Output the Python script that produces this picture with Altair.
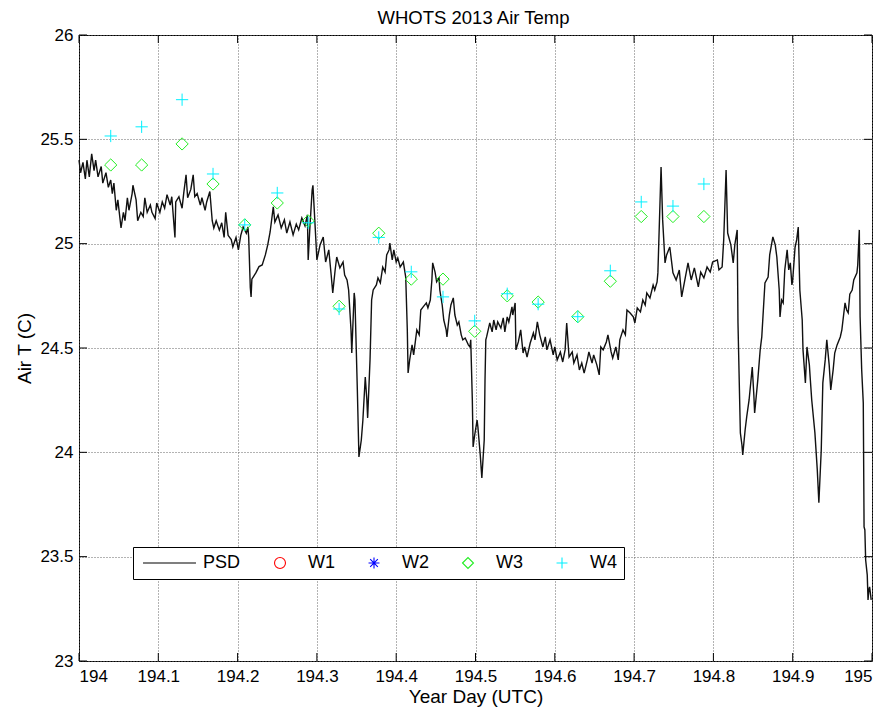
import altair as alt
import pandas as pd

FONT = "Liberation Sans"

# ---- PSD air temperature ----
psd_day = [
    194.000, 194.002, 194.005, 194.008, 194.010, 194.013, 194.016, 194.019, 194.021, 194.024,
    194.028, 194.030, 194.034, 194.037, 194.040, 194.042, 194.044, 194.047, 194.049, 194.053,
    194.056, 194.058, 194.061, 194.063, 194.067, 194.068, 194.072, 194.074, 194.078, 194.081,
    194.083, 194.086, 194.090, 194.092, 194.096, 194.098, 194.102, 194.105, 194.108, 194.111,
    194.115, 194.117, 194.121, 194.122, 194.126, 194.130, 194.132, 194.135, 194.137, 194.141,
    194.144, 194.146, 194.149, 194.153, 194.155, 194.159, 194.161, 194.165, 194.168, 194.170,
    194.173, 194.177, 194.180, 194.183, 194.185, 194.188, 194.192, 194.194, 194.198, 194.201,
    194.204, 194.207, 194.211, 194.213, 194.214, 194.216, 194.217, 194.218, 194.223, 194.227,
    194.231, 194.235, 194.238, 194.241, 194.245, 194.247, 194.251, 194.255, 194.259, 194.262,
    194.266, 194.270, 194.274, 194.277, 194.281, 194.285, 194.288, 194.289, 194.291, 194.294,
    194.295, 194.298, 194.300, 194.304, 194.308, 194.311, 194.315, 194.318, 194.320, 194.323,
    194.325, 194.329, 194.333, 194.335, 194.338, 194.340, 194.343, 194.344, 194.347, 194.348,
    194.351, 194.353, 194.356, 194.358, 194.361, 194.363, 194.364, 194.367, 194.369, 194.371,
    194.375, 194.377, 194.380, 194.383, 194.386, 194.388, 194.391, 194.392, 194.395, 194.397,
    194.400, 194.402, 194.405, 194.409, 194.412, 194.414, 194.415, 194.417, 194.420, 194.422,
    194.426, 194.429, 194.431, 194.434, 194.438, 194.440, 194.443, 194.445, 194.446, 194.449,
    194.451, 194.454, 194.455, 194.458, 194.460, 194.463, 194.464, 194.467, 194.469, 194.472,
    194.474, 194.477, 194.479, 194.482, 194.484, 194.487, 194.491, 194.493, 194.494, 194.496,
    194.497, 194.499, 194.502, 194.503, 194.506, 194.508, 194.511, 194.512, 194.513, 194.514,
    194.518, 194.521, 194.523, 194.526, 194.528, 194.532, 194.535, 194.537, 194.540, 194.542,
    194.546, 194.547, 194.550, 194.551, 194.554, 194.557, 194.560, 194.562, 194.565, 194.569,
    194.573, 194.575, 194.578, 194.581, 194.585, 194.588, 194.590, 194.594, 194.598, 194.600,
    194.603, 194.607, 194.610, 194.613, 194.615, 194.618, 194.622, 194.624, 194.628, 194.631,
    194.634, 194.637, 194.641, 194.643, 194.647, 194.649, 194.653, 194.656, 194.658, 194.661,
    194.665, 194.667, 194.671, 194.673, 194.677, 194.680, 194.682, 194.686, 194.689, 194.691,
    194.695, 194.699, 194.701, 194.704, 194.708, 194.711, 194.714, 194.716, 194.720, 194.724,
    194.726, 194.729, 194.730, 194.734, 194.736, 194.739, 194.741, 194.745, 194.749, 194.753,
    194.757, 194.760, 194.764, 194.768, 194.772, 194.776, 194.781, 194.784, 194.788, 194.792,
    194.796, 194.799, 194.805, 194.807, 194.811, 194.813, 194.816, 194.818, 194.822, 194.825,
    194.827, 194.830, 194.831, 194.834, 194.836, 194.837, 194.840, 194.842, 194.845, 194.849,
    194.851, 194.852, 194.856, 194.859, 194.861, 194.865, 194.869, 194.871, 194.875, 194.878,
    194.880, 194.883, 194.884, 194.886, 194.888, 194.890, 194.893, 194.895, 194.897, 194.899,
    194.900, 194.903, 194.905, 194.907, 194.909, 194.912, 194.913, 194.916, 194.918, 194.921,
    194.922, 194.924, 194.928, 194.931, 194.933, 194.936, 194.938, 194.941, 194.943, 194.946,
    194.948, 194.951, 194.953, 194.956, 194.960, 194.962, 194.966, 194.968, 194.970, 194.972,
    194.975, 194.977, 194.981, 194.982, 194.984, 194.985, 194.987, 194.989, 194.990, 194.991,
    194.992, 194.994, 194.995, 194.996, 194.997, 194.999,
]
psd_temp = [
    25.40, 25.34, 25.39, 25.31, 25.40, 25.32, 25.43, 25.35, 25.40, 25.32,
    25.37, 25.29, 25.34, 25.27, 25.305, 25.24, 25.29, 25.16, 25.21, 25.075,
    25.15, 25.11, 25.22, 25.16, 25.24, 25.28, 25.21, 25.11, 25.15, 25.13,
    25.22, 25.15, 25.185, 25.15, 25.12, 25.195, 25.15, 25.20, 25.17, 25.235,
    25.185, 25.225, 25.03, 25.20, 25.225, 25.17, 25.24, 25.33, 25.22, 25.26,
    25.33, 25.225, 25.24, 25.185, 25.22, 25.16, 25.20, 25.25, 25.11, 25.075,
    25.11, 25.065, 25.10, 25.03, 25.15, 25.04, 25.02, 24.985, 25.03, 24.97,
    25.04, 25.08, 25.05, 25.08, 25.03, 24.79, 24.745, 24.83, 24.86, 24.89,
    24.898, 24.946, 24.994, 25.056, 25.176, 25.104, 25.138, 25.075, 25.114, 25.051,
    25.104, 25.042, 25.094, 25.066, 25.123, 25.085, 25.138, 24.922, 25.066, 25.257,
    25.28, 25.066, 24.922, 24.994, 25.032, 24.912, 24.970, 24.850, 24.764, 24.874,
    24.936, 24.884, 24.912, 24.850, 24.826, 24.778, 24.587, 24.476, 24.764, 24.730,
    24.299, 23.978, 24.059, 24.155, 24.361, 24.251, 24.165, 24.443, 24.730, 24.778,
    24.802, 24.836, 24.812, 24.888, 24.864, 24.946, 24.970, 25.003, 24.922, 24.970,
    24.912, 24.931, 24.888, 24.912, 24.840, 24.587, 24.380, 24.443, 24.515, 24.467,
    24.587, 24.563, 24.682, 24.697, 24.716, 24.692, 24.730, 24.826, 24.908, 24.864,
    24.817, 24.836, 24.778, 24.706, 24.634, 24.587, 24.553, 24.658, 24.706, 24.740,
    24.658, 24.610, 24.625, 24.563, 24.539, 24.548, 24.515, 24.505, 24.539, 24.251,
    24.026, 24.083, 24.155, 24.122, 23.988, 23.877, 24.059, 24.347, 24.539, 24.553,
    24.620, 24.577, 24.634, 24.587, 24.625, 24.596, 24.644, 24.577, 24.649, 24.625,
    24.697, 24.658, 24.716, 24.491, 24.529, 24.587, 24.476, 24.505, 24.457, 24.524,
    24.572, 24.539, 24.625, 24.563, 24.505, 24.553, 24.491, 24.539, 24.467, 24.505,
    24.443, 24.481, 24.433, 24.491, 24.620, 24.457, 24.481, 24.428, 24.467, 24.395,
    24.428, 24.380, 24.443, 24.481, 24.428, 24.467, 24.419, 24.371, 24.505, 24.491,
    24.529, 24.563, 24.481, 24.452, 24.505, 24.443, 24.539, 24.587, 24.563, 24.682,
    24.668, 24.649, 24.620, 24.692, 24.673, 24.730, 24.706, 24.764, 24.740, 24.802,
    24.778, 24.817, 24.860, 25.367, 25.114, 24.908, 24.946, 24.984, 24.860, 24.826,
    24.874, 24.745, 24.826, 24.908, 24.826, 24.884, 24.793, 24.864, 24.836, 24.888,
    24.864, 24.912, 24.922, 24.874, 24.888, 25.018, 25.353, 25.051, 24.994, 24.908,
    24.994, 25.066, 24.620, 24.093, 24.035, 23.988, 24.107, 24.170, 24.251, 24.409,
    24.275, 24.189, 24.347, 24.491, 24.553, 24.812, 24.840, 24.946, 25.032, 24.994,
    24.936, 24.778, 24.649, 24.730, 24.716, 24.874, 24.970, 24.874, 24.908, 24.802,
    24.826, 24.984, 25.018, 25.080, 24.778, 24.634, 24.491, 24.333, 24.505, 24.419,
    24.361, 24.251, 24.093, 23.916, 23.758, 24.011, 24.333, 24.443, 24.539, 24.419,
    24.299, 24.395, 24.476, 24.515, 24.553, 24.587, 24.716, 24.682, 24.668, 24.758,
    24.778, 24.826, 24.860, 24.898, 25.066, 24.649, 24.395, 24.237, 23.643, 23.628,
    23.484, 23.413, 23.293, 23.341, 23.355, 23.293,
]

# ---- buoy observations (W3 diamonds, W4 pluses) ----
obs_day = [194.040, 194.079, 194.130, 194.169, 194.209, 194.250, 194.289, 194.328, 194.378,
           194.419, 194.459, 194.499, 194.540, 194.579, 194.629, 194.670, 194.709, 194.749, 194.788]
w3_temp = [25.377, 25.377, 25.478, 25.286, 25.090, 25.195, 25.109, 24.700, 25.050,
           24.830, 24.830, 24.580, 24.750, 24.720, 24.650, 24.820, 25.130, 25.130, 25.130]
w4_temp = [25.516, 25.560, 25.690, 25.334, 25.090, 25.243, 25.100, 24.687, 25.030,
           24.865, 24.745, 24.630, 24.760, 24.710, 24.650, 24.870, 25.200, 25.180, 25.286]

series_names = ["PSD", "W1", "W2", "W3", "W4"]
series_colors = ["#000000", "#ff0000", "#0000ff", "#22ee22", "#00f0ff"]

x_ticks = [194.0, 194.1, 194.2, 194.3, 194.4, 194.5, 194.6, 194.7, 194.8, 194.9, 195.0]
y_ticks = [23.0, 23.5, 24.0, 24.5, 25.0, 25.5, 26.0]

chart_title = ["WHOTS 2013 Air Temp"]

LINE_SYM = "M-5.84,0H3.83"
PLUS_SYM = "M-1,0H1M0,-1V1"
AST_SYM = "M-1,0H1M0,-1V1M-0.7,-0.7L0.7,0.7M-0.7,0.7L0.7,-0.7"
series_shapes = [LINE_SYM, "circle", AST_SYM, "diamond", PLUS_SYM]

W, H = 793, 626

psd_df = pd.DataFrame({"day": psd_day, "temp": psd_temp})
obs_df = pd.DataFrame({
    "day": obs_day + obs_day,
    "temp": w3_temp + w4_temp,
    "series": ["W3"] * len(obs_day) + ["W4"] * len(obs_day),
})
xt_df = pd.DataFrame({"day": x_ticks})
yt_df = pd.DataFrame({"temp": y_ticks})
title_df = pd.DataFrame({"label": chart_title})

xscale = alt.Scale(domain=[194, 195], nice=False, zero=False)
yscale = alt.Scale(domain=[23, 26], nice=False, zero=False)


def x_axis():
    return alt.Axis(values=x_ticks, format="~g", title="Year Day (UTC)",
                    labelPadding=7, titlePadding=3)


def y_axis():
    return alt.Axis(values=y_ticks, format="~g", title="Air T (C)",
                    labelPadding=6, titlePadding=5)


line = alt.Chart(psd_df).mark_line(color="#111111", strokeWidth=1.4).encode(
    x=alt.X("day:Q", scale=xscale, axis=x_axis()),
    y=alt.Y("temp:Q", scale=yscale, axis=y_axis()),
)

points = alt.Chart(obs_df).mark_point(filled=False, size=150, strokeWidth=1, opacity=1).encode(
    x=alt.X("day:Q", scale=xscale, axis=x_axis()),
    y=alt.Y("temp:Q", scale=yscale, axis=y_axis()),
    color=alt.Color("series:N", scale=alt.Scale(domain=series_names, range=series_colors),
                    legend=alt.Legend(title=None)),
    shape=alt.Shape("series:N", scale=alt.Scale(domain=series_names, range=series_shapes),
                    legend=alt.Legend(title=None)),
)

tick_b = alt.Chart(xt_df).mark_rule(color="black", strokeWidth=1).encode(
    x=alt.X("day:Q", scale=xscale, axis=x_axis()), y=alt.value(H), y2=alt.value(H - 8))
tick_t = alt.Chart(xt_df).mark_rule(color="black", strokeWidth=1).encode(
    x=alt.X("day:Q", scale=xscale, axis=x_axis()), y=alt.value(0), y2=alt.value(8))
tick_l = alt.Chart(yt_df).mark_rule(color="black", strokeWidth=1).encode(
    y=alt.Y("temp:Q", scale=yscale, axis=y_axis()), x=alt.value(0), x2=alt.value(8))
tick_r = alt.Chart(yt_df).mark_rule(color="black", strokeWidth=1).encode(
    y=alt.Y("temp:Q", scale=yscale, axis=y_axis()), x=alt.value(W), x2=alt.value(W - 8))

title_txt = alt.Chart(title_df).mark_text(
    font=FONT, fontSize=18.5, color="black", align="center", baseline="alphabetic"
).encode(text="label:N", x=alt.value(W / 2 - 2), y=alt.value(-11))

chart = alt.layer(line, points, tick_b, tick_t, tick_l, tick_r, title_txt).properties(
    width=W, height=H,
    autosize=alt.AutoSizeParams(type="none"),
    padding={"left": 71, "top": 27, "right": 11, "bottom": 46},
).configure_view(
    stroke="black", strokeWidth=1
).configure_axis(
    domain=False, ticks=False, grid=True,
    gridColor="#666666", gridDash=[1, 2], gridWidth=1,
    labelFont=FONT, labelFontSize=17, labelColor="black",
    titleFont=FONT, titleFontSize=19, titleFontWeight="normal", titleColor="black",
).configure_legend(
    orient="none", legendX=54, legendY=512, direction="horizontal", columns=5,
    strokeColor="black", fillColor="white", padding=7, columnPadding=4,
    symbolSize=120, symbolStrokeWidth=1.1, symbolOffset=26, labelOffset=19,
    labelFont=FONT, labelFontSize=18, labelColor="black", cornerRadius=0,
)

chart.save("out.html", embed_options={"renderer": "svg", "actions": False})
